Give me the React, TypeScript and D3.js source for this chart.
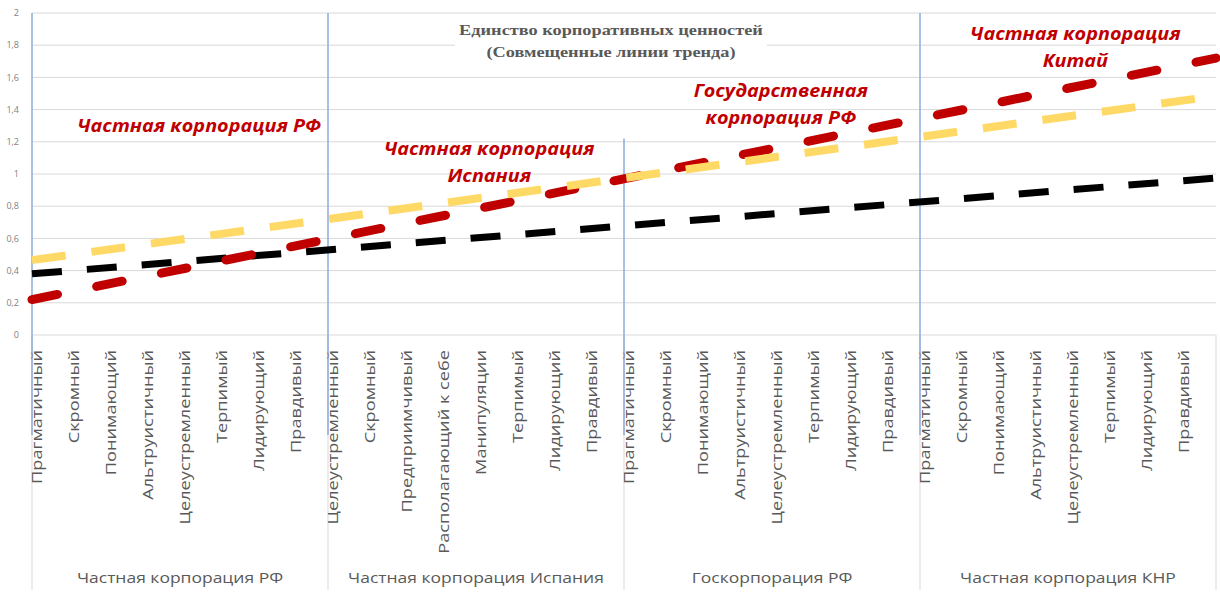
import React from "react";
import * as d3 from "d3";

const catsPrivateRF = ["Прагматичный", "Скромный", "Понимающий", "Альтруистичный", "Целеустремленный", "Терпимый", "Лидирующий", "Правдивый"];
const catsSpain = ["Целеустремленный", "Скромный", "Предприимчивый", "Располагающий к себе", "Манипуляции", "Терпимый", "Лидирующий", "Правдивый"];
const catsStateRF = ["Прагматичный", "Скромный", "Понимающий", "Альтруистичный", "Целеустремленный", "Терпимый", "Лидирующий", "Правдивый"];
const catsChina = ["Прагматичный", "Скромный", "Понимающий", "Альтруистичный", "Целеустремленный", "Терпимый", "Лидирующий", "Правдивый"];
const groups = ["Частная корпорация РФ", "Частная корпорация Испания", "Госкорпорация РФ", "Частная корпорация КНР"];

// trend lines: value at the left edge, value at the right edge of the plot
const trendBlack = [0.38, 0.975];
const trendYellow = [0.465, 1.485];
const trendRed = [0.22, 1.72];

const yTicks = [0, 0.2, 0.4, 0.6, 0.8, 1, 1.2, 1.4, 1.6, 1.8, 2];

const title = ["Единство корпоративных ценностей", "(Совмещенные  линии тренда)"];

const annotations = [
  { lines: ["Частная корпорация РФ"], group: 0, value: 1.26 },
  { lines: ["Частная корпорация", "Испания"], group: 1, value: 1.12 },
  { lines: ["Государственная", "корпорация РФ"], group: 2, value: 1.48 },
  { lines: ["Частная корпорация", "Китай"], group: 3, value: 1.83 },
];

export default function App() {
  const W = 1220, H = 592;
  const cats = [...catsPrivateRF, ...catsSpain, ...catsStateRF, ...catsChina];
  const y = d3.scaleLinear().domain([0, 2]).range([335, 13]);
  const x = d3.scaleBand<number>().domain(d3.range(cats.length)).range([32, 1216]);
  const [x0, x1] = x.range();
  const xt = d3.scaleLinear().domain([0, 1]).range([x0, x1]);
  const per = catsPrivateRF.length;
  const loc = d3.formatLocale({ decimal: ",", thousands: " ", grouping: [3], currency: ["", ""] });
  const fmt = loc.format("~g");
  const line = d3.line<number>().x((_, i) => xt(i)).y((d) => y(d));
  const annX = [0.565, 0.545, 0.53, 0.525];
  const gx = (g: number) => x(g * per)!;
  const gEnd = (g: number) => (g + 1 < groups.length ? x((g + 1) * per)! : x1);

  return (
    <div style={{ position: "absolute", left: 0, top: 0 }}>
      <svg width={W} height={H} style={{ display: "block", background: "#fff" }}>
        {/* gridlines */}
        {yTicks.map((t) => (
          <line key={t} x1={x0} x2={x1} y1={y(t)} y2={y(t)} stroke="#d9d9d9" strokeWidth={1} />
        ))}
        {/* y tick labels */}
        {yTicks.map((t) => (
          <text key={"l" + t} x={19} y={y(t)} dy="0.35em" textAnchor="end" fontFamily="Open Sans" fontSize={9} fill="#7f7f7f">
            {fmt(t)}
          </text>
        ))}
        {/* group separators in the category axis */}
        {d3.range(groups.length + 1).map((g) => {
          const gxv = g < groups.length ? gx(g) : x1;
          return <line key={"s" + g} x1={gxv} x2={gxv} y1={y(0)} y2={590} stroke="#d9d9d9" strokeWidth={1} />;
        })}
        {/* category labels */}
        {cats.map((c, i) => (
          <text
            key={"c" + i}
            transform={`translate(${x(i)! + 10},${y(0) + 15}) rotate(-90) scale(1.3,1)`}
            textAnchor="end"
            fontFamily="Open Sans"
            fontSize={14}
            fill="#595959"
          >
            {c}
          </text>
        ))}
        {/* group labels */}
        {groups.map((g, i) => (
          <text
            key={"g" + i}
            transform={`translate(${(gx(i) + gEnd(i)) / 2},583) scale(1.25,1)`}
            textAnchor="middle"
            fontFamily="Open Sans"
            fontSize={14}
            fill="#595959"
          >
            {g}
          </text>
        ))}
        {/* blue vertical guide lines */}
        {d3.range(groups.length).map((g) => (
          <line
            key={"b" + g}
            x1={gx(g)}
            x2={gx(g)}
            y1={g === 2 ? y(1.22) : y(2)}
            y2={435}
            stroke="#8eaadb"
            strokeWidth={1.5}
          />
        ))}
        {/* title */}
        <rect x={455} y={18} width={312} height={44} fill="#fff" />
        {title.map((t, i) => (
          <text
            key={"t" + i}
            transform={`translate(611,${35 + i * 22}) scale(1.22,1)`}
            textAnchor="middle"
            fontFamily="Liberation Serif"
            fontWeight="bold"
            fontSize={15}
            fill="#595959"
          >
            {t}
          </text>
        ))}
        {/* trend lines */}
        <path d={line(trendBlack)!} fill="none" stroke="#000" strokeWidth={7} strokeDasharray="30 25" />
        <path d={line(trendRed)!} fill="none" stroke="#c00000" strokeWidth={9} strokeDasharray="26 40" strokeLinecap="round" />
        <path d={line(trendYellow)!} fill="none" stroke="#ffd966" strokeWidth={8} strokeDasharray="34 26" />
        {/* annotations */}
        {annotations.map((a, i) => {
          const cx = gx(a.group) + (gEnd(a.group) - gx(a.group)) * annX[i];
          return (
            <text
              key={"a" + i}
              transform={`translate(${cx},${y(a.value)}) scale(1.07,1)`}
              textAnchor="middle"
              fontFamily="Open Sans"
              fontStyle="italic"
              fontWeight="bold"
              fontSize={18.5}
              fill="#c00000"
            >
              {a.lines.map((l, j) => (
                <tspan key={j} x={0} y={j * 27}>
                  {l}
                </tspan>
              ))}
            </text>
          );
        })}
      </svg>
    </div>
  );
}
